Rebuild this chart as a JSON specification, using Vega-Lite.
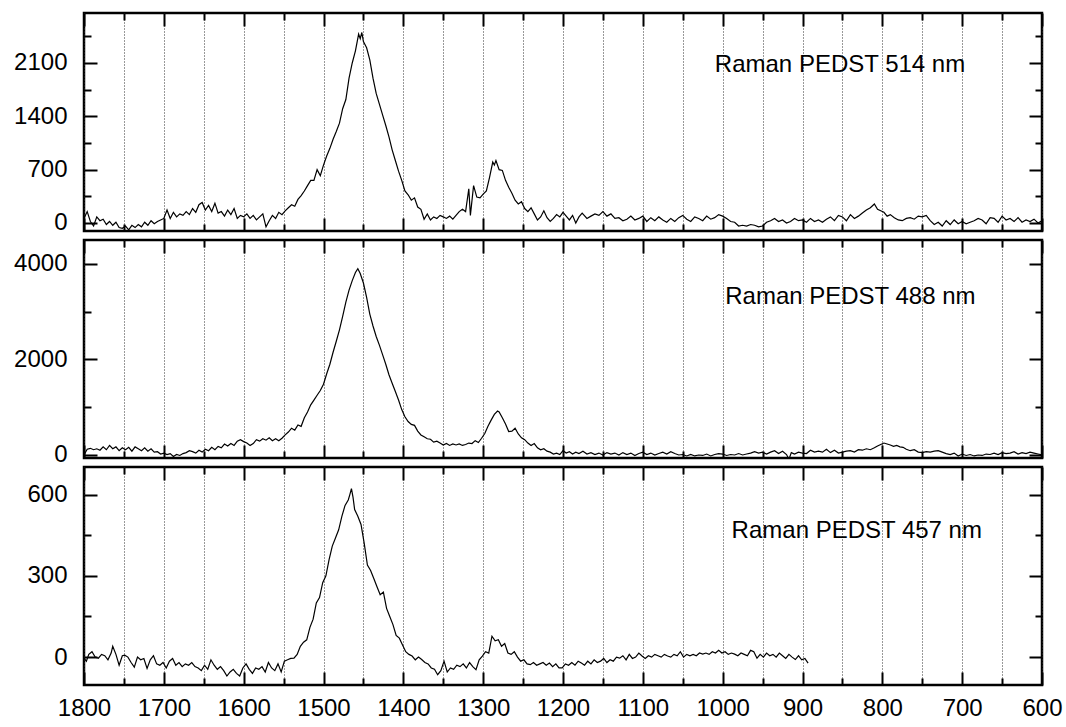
{
  "$schema": "https://vega.github.io/schema/vega-lite/v6.json",
  "padding": {"left": 12, "top": 10, "right": 0, "bottom": 0},
  "spacing": 9,
  "bounds": "flush",
  "config": {
    "view": {"stroke": "black", "strokeWidth": 2.5},
    "axis": {"domain": false, "tickColor": "black", "tickWidth": 2, "labelFont": "Liberation Sans", "labelFontSize": 24, "labelColor": "black", "grid": false, "labelFlush": false, "labelOverlap": false, "format": "d", "gridColor": "#333333", "gridDash": [1, 2], "gridWidth": 1}
  },
  "datasets": {
    "p514": [
      {"w":1800,"i":60},{"w":1796,"i":150},{"w":1792,"i":20},{"w":1788,"i":-40},{"w":1784,"i":80},{"w":1780,"i":30},{"w":1776,"i":50},{"w":1772,"i":-20},{"w":1768,"i":20},{"w":1764,"i":-30},{"w":1760,"i":10},{"w":1756,"i":-60},{"w":1752,"i":-70},{"w":1748,"i":-40},{"w":1744,"i":-90},{"w":1740,"i":-30},{"w":1736,"i":-60},{"w":1732,"i":-20},{"w":1728,"i":-50},{"w":1724,"i":10},{"w":1720,"i":-30},{"w":1716,"i":30},{"w":1712,"i":-10},{"w":1708,"i":20},{"w":1704,"i":40},{"w":1700,"i":60},
      {"w":1696,"i":170},{"w":1692,"i":60},{"w":1688,"i":140},{"w":1684,"i":80},{"w":1680,"i":120},{"w":1676,"i":100},{"w":1672,"i":150},{"w":1668,"i":110},{"w":1664,"i":190},{"w":1660,"i":140},{"w":1656,"i":240},{"w":1652,"i":270},{"w":1648,"i":170},{"w":1644,"i":230},{"w":1640,"i":150},{"w":1636,"i":260},{"w":1632,"i":130},{"w":1628,"i":150},{"w":1624,"i":90},{"w":1620,"i":170},{"w":1616,"i":110},{"w":1612,"i":190},{"w":1608,"i":60},{"w":1604,"i":100},{"w":1600,"i":80},
      {"w":1596,"i":120},{"w":1592,"i":60},{"w":1588,"i":100},{"w":1584,"i":40},{"w":1580,"i":80},{"w":1576,"i":120},{"w":1572,"i":-50},{"w":1568,"i":30},{"w":1564,"i":100},{"w":1560,"i":60},{"w":1556,"i":140},{"w":1552,"i":110},{"w":1548,"i":160},{"w":1544,"i":200},{"w":1540,"i":240},{"w":1536,"i":220},{"w":1532,"i":310},{"w":1528,"i":360},{"w":1524,"i":420},{"w":1520,"i":490},{"w":1516,"i":560},{"w":1512,"i":560},{"w":1508,"i":700},{"w":1504,"i":620},{"w":1500,"i":760},
      {"w":1496,"i":880},{"w":1492,"i":980},{"w":1488,"i":1100},{"w":1484,"i":1200},{"w":1480,"i":1310},{"w":1476,"i":1500},{"w":1472,"i":1620},{"w":1468,"i":1900},{"w":1464,"i":2100},{"w":1460,"i":2260},{"w":1456,"i":2480},{"w":1454,"i":2420},{"w":1452,"i":2500},{"w":1450,"i":2380},{"w":1446,"i":2300},{"w":1442,"i":2140},{"w":1438,"i":1900},{"w":1434,"i":1700},{"w":1430,"i":1560},{"w":1426,"i":1420},{"w":1422,"i":1280},{"w":1418,"i":1130},{"w":1414,"i":960},{"w":1410,"i":820},{"w":1406,"i":680},{"w":1402,"i":560},
      {"w":1398,"i":420},{"w":1394,"i":370},{"w":1390,"i":300},{"w":1386,"i":330},{"w":1382,"i":210},{"w":1378,"i":180},{"w":1374,"i":50},{"w":1370,"i":120},{"w":1366,"i":40},{"w":1362,"i":80},{"w":1358,"i":60},{"w":1354,"i":100},{"w":1350,"i":80},{"w":1346,"i":60},{"w":1342,"i":90},{"w":1338,"i":50},{"w":1334,"i":100},{"w":1330,"i":150},{"w":1326,"i":180},{"w":1322,"i":150},{"w":1318,"i":450},{"w":1316,"i":100},{"w":1312,"i":490},{"w":1308,"i":340},{"w":1304,"i":330},{"w":1300,"i":380},
      {"w":1296,"i":420},{"w":1292,"i":600},{"w":1288,"i":800},{"w":1286,"i":760},{"w":1284,"i":820},{"w":1280,"i":700},{"w":1276,"i":690},{"w":1272,"i":560},{"w":1268,"i":470},{"w":1264,"i":390},{"w":1260,"i":300},{"w":1256,"i":250},{"w":1252,"i":280},{"w":1248,"i":190},{"w":1244,"i":150},{"w":1240,"i":200},{"w":1236,"i":120},{"w":1232,"i":40},{"w":1228,"i":80},{"w":1224,"i":160},{"w":1220,"i":70},{"w":1216,"i":20},{"w":1212,"i":60},{"w":1208,"i":110},{"w":1204,"i":80},{"w":1200,"i":140},
      {"w":1196,"i":90},{"w":1192,"i":40},{"w":1188,"i":100},{"w":1184,"i":0},{"w":1180,"i":80},{"w":1176,"i":130},{"w":1170,"i":60},{"w":1165,"i":90},{"w":1160,"i":120},{"w":1155,"i":100},{"w":1150,"i":150},{"w":1145,"i":90},{"w":1140,"i":120},{"w":1135,"i":60},{"w":1130,"i":70},{"w":1125,"i":30},{"w":1120,"i":50},{"w":1115,"i":90},{"w":1110,"i":40},{"w":1105,"i":60},{"w":1100,"i":90},
      {"w":1095,"i":20},{"w":1090,"i":70},{"w":1085,"i":30},{"w":1080,"i":80},{"w":1075,"i":40},{"w":1070,"i":10},{"w":1065,"i":60},{"w":1060,"i":20},{"w":1055,"i":70},{"w":1050,"i":100},{"w":1045,"i":50},{"w":1040,"i":20},{"w":1035,"i":80},{"w":1030,"i":60},{"w":1025,"i":30},{"w":1020,"i":90},{"w":1015,"i":50},{"w":1010,"i":70},{"w":1005,"i":110},{"w":1000,"i":90},
      {"w":995,"i":60},{"w":990,"i":20},{"w":985,"i":10},{"w":980,"i":-40},{"w":975,"i":-30},{"w":970,"i":-40},{"w":965,"i":-20},{"w":960,"i":-30},{"w":955,"i":-50},{"w":950,"i":-40},{"w":945,"i":10},{"w":940,"i":30},{"w":935,"i":60},{"w":930,"i":20},{"w":925,"i":40},{"w":920,"i":0},{"w":915,"i":20},{"w":910,"i":60},{"w":905,"i":30},{"w":900,"i":40},
      {"w":895,"i":10},{"w":890,"i":60},{"w":885,"i":20},{"w":880,"i":40},{"w":875,"i":10},{"w":870,"i":50},{"w":865,"i":80},{"w":860,"i":30},{"w":855,"i":100},{"w":850,"i":80},{"w":845,"i":30},{"w":840,"i":110},{"w":835,"i":60},{"w":830,"i":90},{"w":825,"i":130},{"w":820,"i":170},{"w":815,"i":200},{"w":810,"i":250},{"w":806,"i":180},{"w":802,"i":160},
      {"w":798,"i":140},{"w":794,"i":90},{"w":790,"i":110},{"w":785,"i":70},{"w":780,"i":40},{"w":775,"i":30},{"w":770,"i":60},{"w":765,"i":70},{"w":760,"i":50},{"w":755,"i":90},{"w":750,"i":80},{"w":745,"i":100},{"w":740,"i":30},{"w":735,"i":-20},{"w":730,"i":10},{"w":725,"i":-40},{"w":720,"i":30},{"w":715,"i":-20},{"w":710,"i":40},{"w":705,"i":-10},{"w":700,"i":20},
      {"w":695,"i":-10},{"w":690,"i":10},{"w":685,"i":30},{"w":680,"i":60},{"w":675,"i":40},{"w":670,"i":-10},{"w":665,"i":70},{"w":660,"i":60},{"w":655,"i":10},{"w":650,"i":90},{"w":645,"i":40},{"w":640,"i":60},{"w":635,"i":20},{"w":630,"i":70},{"w":625,"i":10},{"w":620,"i":40},{"w":615,"i":20},{"w":610,"i":50},{"w":605,"i":0},{"w":600,"i":30}
    ],
    "p488": [
      {"w":1800,"i":0},{"w":1796,"i":120},{"w":1792,"i":140},{"w":1788,"i":110},{"w":1784,"i":130},{"w":1780,"i":100},{"w":1776,"i":170},{"w":1772,"i":110},{"w":1768,"i":200},{"w":1764,"i":130},{"w":1760,"i":170},{"w":1756,"i":90},{"w":1752,"i":150},{"w":1748,"i":110},{"w":1744,"i":160},{"w":1740,"i":80},{"w":1736,"i":170},{"w":1732,"i":130},{"w":1728,"i":90},{"w":1724,"i":150},{"w":1720,"i":80},{"w":1716,"i":130},{"w":1712,"i":60},{"w":1708,"i":70},{"w":1704,"i":20},{"w":1700,"i":40},
      {"w":1696,"i":10},{"w":1692,"i":30},{"w":1688,"i":-30},{"w":1684,"i":10},{"w":1680,"i":-10},{"w":1676,"i":30},{"w":1672,"i":50},{"w":1668,"i":90},{"w":1664,"i":70},{"w":1660,"i":40},{"w":1656,"i":100},{"w":1652,"i":60},{"w":1648,"i":120},{"w":1644,"i":90},{"w":1640,"i":160},{"w":1636,"i":110},{"w":1632,"i":180},{"w":1628,"i":150},{"w":1624,"i":230},{"w":1620,"i":190},{"w":1616,"i":240},{"w":1612,"i":200},{"w":1608,"i":290},{"w":1604,"i":320},{"w":1600,"i":280},
      {"w":1596,"i":250},{"w":1592,"i":200},{"w":1588,"i":240},{"w":1584,"i":320},{"w":1580,"i":290},{"w":1576,"i":340},{"w":1572,"i":310},{"w":1568,"i":360},{"w":1564,"i":300},{"w":1560,"i":340},{"w":1556,"i":300},{"w":1552,"i":350},{"w":1548,"i":420},{"w":1544,"i":480},{"w":1540,"i":560},{"w":1536,"i":520},{"w":1532,"i":630},{"w":1528,"i":600},{"w":1524,"i":780},{"w":1520,"i":900},{"w":1516,"i":1050},{"w":1512,"i":1150},{"w":1508,"i":1250},{"w":1504,"i":1350},{"w":1500,"i":1480},
      {"w":1496,"i":1700},{"w":1492,"i":1900},{"w":1488,"i":2150},{"w":1484,"i":2380},{"w":1480,"i":2620},{"w":1476,"i":2900},{"w":1472,"i":3200},{"w":1468,"i":3450},{"w":1464,"i":3650},{"w":1460,"i":3820},{"w":1457,"i":3900},{"w":1454,"i":3800},{"w":1450,"i":3600},{"w":1446,"i":3300},{"w":1442,"i":2950},{"w":1438,"i":2700},{"w":1434,"i":2480},{"w":1430,"i":2300},{"w":1426,"i":2100},{"w":1422,"i":1900},{"w":1418,"i":1680},{"w":1414,"i":1500},{"w":1410,"i":1330},{"w":1406,"i":1150},{"w":1402,"i":950},
      {"w":1398,"i":800},{"w":1394,"i":700},{"w":1390,"i":640},{"w":1386,"i":620},{"w":1382,"i":500},{"w":1378,"i":420},{"w":1374,"i":380},{"w":1370,"i":340},{"w":1366,"i":330},{"w":1362,"i":270},{"w":1358,"i":290},{"w":1354,"i":250},{"w":1350,"i":210},{"w":1346,"i":240},{"w":1342,"i":200},{"w":1338,"i":230},{"w":1334,"i":210},{"w":1330,"i":230},{"w":1326,"i":200},{"w":1322,"i":220},{"w":1318,"i":250},{"w":1314,"i":240},{"w":1310,"i":300},{"w":1306,"i":260},{"w":1302,"i":350},
      {"w":1298,"i":450},{"w":1294,"i":600},{"w":1290,"i":730},{"w":1286,"i":850},{"w":1282,"i":920},{"w":1280,"i":900},{"w":1276,"i":780},{"w":1272,"i":650},{"w":1268,"i":490},{"w":1264,"i":500},{"w":1260,"i":560},{"w":1256,"i":440},{"w":1252,"i":360},{"w":1248,"i":320},{"w":1244,"i":250},{"w":1240,"i":200},{"w":1236,"i":240},{"w":1232,"i":150},{"w":1228,"i":110},{"w":1224,"i":130},{"w":1220,"i":80},{"w":1216,"i":60},{"w":1212,"i":20},{"w":1208,"i":40},{"w":1204,"i":10},{"w":1200,"i":90},
      {"w":1196,"i":40},{"w":1192,"i":70},{"w":1188,"i":20},{"w":1184,"i":60},{"w":1180,"i":30},{"w":1175,"i":80},{"w":1170,"i":20},{"w":1165,"i":50},{"w":1160,"i":10},{"w":1155,"i":40},{"w":1150,"i":0},{"w":1145,"i":50},{"w":1140,"i":20},{"w":1135,"i":40},{"w":1130,"i":0},{"w":1125,"i":50},{"w":1120,"i":10},{"w":1115,"i":40},{"w":1110,"i":-10},{"w":1105,"i":30},{"w":1100,"i":60},
      {"w":1095,"i":10},{"w":1090,"i":40},{"w":1085,"i":0},{"w":1080,"i":30},{"w":1075,"i":60},{"w":1070,"i":20},{"w":1065,"i":70},{"w":1060,"i":30},{"w":1055,"i":0},{"w":1050,"i":10},{"w":1045,"i":-20},{"w":1040,"i":10},{"w":1035,"i":-20},{"w":1030,"i":0},{"w":1025,"i":-10},{"w":1020,"i":20},{"w":1015,"i":-20},{"w":1010,"i":10},{"w":1005,"i":30},{"w":1000,"i":20},
      {"w":995,"i":-10},{"w":990,"i":10},{"w":985,"i":0},{"w":980,"i":30},{"w":975,"i":0},{"w":970,"i":20},{"w":965,"i":40},{"w":960,"i":70},{"w":955,"i":40},{"w":950,"i":60},{"w":945,"i":20},{"w":940,"i":60},{"w":935,"i":90},{"w":930,"i":30},{"w":925,"i":80},{"w":920,"i":10},{"w":917,"i":-90},{"w":914,"i":50},{"w":910,"i":20},{"w":905,"i":60},{"w":900,"i":40},
      {"w":895,"i":30},{"w":890,"i":100},{"w":885,"i":60},{"w":880,"i":80},{"w":875,"i":60},{"w":870,"i":120},{"w":865,"i":50},{"w":860,"i":100},{"w":855,"i":40},{"w":850,"i":60},{"w":845,"i":80},{"w":840,"i":90},{"w":835,"i":60},{"w":830,"i":110},{"w":825,"i":100},{"w":820,"i":130},{"w":815,"i":110},{"w":810,"i":150},{"w":806,"i":190},{"w":802,"i":220},
      {"w":798,"i":250},{"w":794,"i":230},{"w":790,"i":210},{"w":786,"i":180},{"w":782,"i":200},{"w":778,"i":170},{"w":774,"i":160},{"w":770,"i":120},{"w":765,"i":90},{"w":760,"i":110},{"w":755,"i":60},{"w":750,"i":50},{"w":745,"i":70},{"w":740,"i":60},{"w":735,"i":80},{"w":730,"i":90},{"w":725,"i":60},{"w":720,"i":30},{"w":715,"i":10},{"w":710,"i":40},{"w":705,"i":-20},{"w":700,"i":20},
      {"w":695,"i":-10},{"w":690,"i":10},{"w":685,"i":-20},{"w":680,"i":0},{"w":675,"i":-10},{"w":670,"i":20},{"w":665,"i":10},{"w":660,"i":40},{"w":655,"i":10},{"w":650,"i":50},{"w":645,"i":30},{"w":640,"i":40},{"w":635,"i":70},{"w":630,"i":20},{"w":625,"i":50},{"w":620,"i":30},{"w":615,"i":60},{"w":610,"i":40},{"w":605,"i":20},{"w":600,"i":0}
    ],
    "p457": [
      {"w":1800,"i":-4},{"w":1797,"i":-15},{"w":1794,"i":10},{"w":1790,"i":20},{"w":1786,"i":0},{"w":1782,"i":-4},{"w":1778,"i":10},{"w":1774,"i":5},{"w":1770,"i":-10},{"w":1766,"i":15},{"w":1764,"i":40},{"w":1760,"i":10},{"w":1756,"i":-30},{"w":1752,"i":5},{"w":1749,"i":7},{"w":1745,"i":0},{"w":1741,"i":-20},{"w":1737,"i":-37},{"w":1733,"i":0},{"w":1729,"i":-10},{"w":1725,"i":-5},{"w":1721,"i":-42},{"w":1717,"i":-10},{"w":1713,"i":5},{"w":1709,"i":-25},{"w":1705,"i":-30},{"w":1701,"i":-20},
      {"w":1697,"i":-40},{"w":1693,"i":-15},{"w":1689,"i":-5},{"w":1685,"i":-30},{"w":1681,"i":-20},{"w":1677,"i":-35},{"w":1673,"i":-25},{"w":1669,"i":-30},{"w":1665,"i":-20},{"w":1661,"i":-35},{"w":1657,"i":-40},{"w":1653,"i":-50},{"w":1649,"i":-30},{"w":1645,"i":-45},{"w":1641,"i":-10},{"w":1637,"i":-30},{"w":1633,"i":-45},{"w":1629,"i":-35},{"w":1625,"i":-50},{"w":1621,"i":-70},{"w":1617,"i":-55},{"w":1613,"i":-45},{"w":1609,"i":-60},{"w":1605,"i":-70},{"w":1601,"i":-40},
      {"w":1597,"i":-25},{"w":1593,"i":-45},{"w":1589,"i":-60},{"w":1585,"i":-40},{"w":1581,"i":-45},{"w":1577,"i":-35},{"w":1573,"i":-55},{"w":1569,"i":-20},{"w":1565,"i":-40},{"w":1561,"i":-50},{"w":1557,"i":-25},{"w":1553,"i":-55},{"w":1549,"i":-15},{"w":1545,"i":-10},{"w":1541,"i":-5},{"w":1537,"i":-4},{"w":1533,"i":10},{"w":1529,"i":40},{"w":1525,"i":55},{"w":1521,"i":64},{"w":1517,"i":110},{"w":1513,"i":140},{"w":1509,"i":200},{"w":1505,"i":220},{"w":1501,"i":275},
      {"w":1497,"i":300},{"w":1493,"i":360},{"w":1489,"i":410},{"w":1485,"i":440},{"w":1481,"i":470},{"w":1477,"i":520},{"w":1473,"i":560},{"w":1469,"i":580},{"w":1467,"i":600},{"w":1465,"i":622},{"w":1463,"i":590},{"w":1461,"i":545},{"w":1457,"i":520},{"w":1453,"i":490},{"w":1449,"i":420},{"w":1445,"i":340},{"w":1441,"i":320},{"w":1437,"i":290},{"w":1433,"i":260},{"w":1429,"i":230},{"w":1425,"i":240},{"w":1421,"i":180},{"w":1417,"i":150},{"w":1413,"i":120},{"w":1409,"i":80},{"w":1405,"i":70},{"w":1401,"i":45},
      {"w":1397,"i":20},{"w":1393,"i":10},{"w":1389,"i":4},{"w":1385,"i":-10},{"w":1381,"i":0},{"w":1377,"i":-9},{"w":1373,"i":-20},{"w":1369,"i":-25},{"w":1365,"i":-40},{"w":1361,"i":-45},{"w":1357,"i":-65},{"w":1353,"i":-50},{"w":1349,"i":-15},{"w":1345,"i":-55},{"w":1341,"i":-40},{"w":1337,"i":-45},{"w":1333,"i":-30},{"w":1329,"i":-35},{"w":1325,"i":-25},{"w":1321,"i":-40},{"w":1317,"i":-20},{"w":1313,"i":-35},{"w":1309,"i":-46},{"w":1305,"i":-10},{"w":1301,"i":4},
      {"w":1297,"i":20},{"w":1293,"i":15},{"w":1289,"i":77},{"w":1285,"i":60},{"w":1281,"i":64},{"w":1277,"i":40},{"w":1273,"i":50},{"w":1269,"i":15},{"w":1265,"i":10},{"w":1261,"i":20},{"w":1257,"i":0},{"w":1253,"i":-15},{"w":1249,"i":-10},{"w":1245,"i":-25},{"w":1241,"i":-28},{"w":1237,"i":-20},{"w":1233,"i":-30},{"w":1229,"i":-25},{"w":1225,"i":-20},{"w":1221,"i":-30},{"w":1217,"i":-22},{"w":1213,"i":-35},{"w":1209,"i":-25},{"w":1205,"i":-40},{"w":1201,"i":-40},
      {"w":1197,"i":-25},{"w":1193,"i":-30},{"w":1189,"i":-20},{"w":1185,"i":-30},{"w":1181,"i":-15},{"w":1177,"i":-22},{"w":1173,"i":-30},{"w":1169,"i":-15},{"w":1165,"i":-25},{"w":1161,"i":-10},{"w":1157,"i":-20},{"w":1153,"i":-15},{"w":1149,"i":-5},{"w":1145,"i":-20},{"w":1141,"i":-10},{"w":1137,"i":-15},{"w":1133,"i":0},{"w":1129,"i":-4},{"w":1125,"i":5},{"w":1121,"i":-10},{"w":1117,"i":10},{"w":1113,"i":-5},{"w":1109,"i":0},{"w":1105,"i":15},{"w":1101,"i":4},
      {"w":1097,"i":-5},{"w":1093,"i":5},{"w":1089,"i":0},{"w":1085,"i":10},{"w":1081,"i":5},{"w":1077,"i":0},{"w":1073,"i":10},{"w":1069,"i":4},{"w":1065,"i":0},{"w":1061,"i":10},{"w":1057,"i":5},{"w":1053,"i":20},{"w":1049,"i":0},{"w":1045,"i":10},{"w":1041,"i":5},{"w":1037,"i":10},{"w":1033,"i":5},{"w":1029,"i":15},{"w":1025,"i":11},{"w":1021,"i":15},{"w":1017,"i":10},{"w":1013,"i":20},{"w":1009,"i":15},{"w":1005,"i":25},{"w":1001,"i":15},
      {"w":997,"i":20},{"w":993,"i":10},{"w":989,"i":15},{"w":985,"i":11},{"w":981,"i":5},{"w":977,"i":15},{"w":973,"i":10},{"w":969,"i":5},{"w":965,"i":25},{"w":961,"i":20},{"w":957,"i":-4},{"w":953,"i":10},{"w":949,"i":0},{"w":945,"i":15},{"w":941,"i":5},{"w":937,"i":10},{"w":933,"i":0},{"w":929,"i":15},{"w":925,"i":5},{"w":921,"i":-5},{"w":917,"i":10},{"w":913,"i":0},{"w":909,"i":-9},{"w":905,"i":5},{"w":901,"i":-10},{"w":897,"i":-5},{"w":893,"i":-22}
    ]
  },
  "vconcat": [
    {
      "width": 958, "height": 218,
      "data": {"name": "p514"},
      "resolve": {"axis": {"x": "independent", "y": "independent"}},
      "layer": [
        {"mark": {"type": "line", "color": "black", "strokeWidth": 1.2, "clip": true},
         "encoding": {
           "x": {"field": "w", "type": "quantitative", "title": null, "scale": {"domain": [600, 1800], "reverse": true, "nice": false, "zero": false}, "axis": {"orient": "bottom", "values": [1800,1700,1600,1500,1400,1300,1200,1100,1000,900,800,700,600], "tickSize": -13, "labels": false, "grid": true}},
           "y": {"field": "i", "type": "quantitative", "title": null, "scale": {"domain": [-105, 2756], "nice": false, "zero": false}, "axis": {"orient": "left", "values": [0,700,1400,2100], "tickSize": -13, "labelPadding": 30}}}},
        {"mark": {"type": "line", "strokeOpacity": 0},
         "encoding": {
           "x": {"field": "w", "type": "quantitative", "title": null, "scale": {"domain": [600, 1800], "reverse": true, "nice": false, "zero": false}, "axis": {"orient": "bottom", "values": [1750,1650,1550,1450,1350,1250,1150,1050,950,850,750,650], "tickSize": -7, "labels": false, "grid": true}},
           "y": {"field": "i", "type": "quantitative", "title": null, "scale": {"domain": [-105, 2756], "nice": false, "zero": false}, "axis": {"orient": "left", "values": [350,1050,1750,2450], "tickSize": -7, "labels": false}}}},
        {"mark": {"type": "line", "strokeOpacity": 0},
         "encoding": {
           "x": {"field": "w", "type": "quantitative", "title": null, "scale": {"domain": [600, 1800], "reverse": true, "nice": false, "zero": false}, "axis": {"orient": "top", "values": [1800,1700,1600,1500,1400,1300,1200,1100,1000,900,800,700,600], "tickSize": -13, "labels": false}},
           "y": {"field": "i", "type": "quantitative", "title": null, "scale": {"domain": [-105, 2756], "nice": false, "zero": false}, "axis": {"orient": "right", "values": [0,700,1400,2100], "tickSize": -13, "labels": false}}}},
        {"mark": {"type": "line", "strokeOpacity": 0},
         "encoding": {
           "x": {"field": "w", "type": "quantitative", "title": null, "scale": {"domain": [600, 1800], "reverse": true, "nice": false, "zero": false}, "axis": {"orient": "top", "values": [1750,1650,1550,1450,1350,1250,1150,1050,950,850,750,650], "tickSize": -7, "labels": false}},
           "y": {"field": "i", "type": "quantitative", "title": null, "scale": {"domain": [-105, 2756], "nice": false, "zero": false}, "axis": {"orient": "right", "values": [350,1050,1750,2450], "tickSize": -7, "labels": false}}}},
        {"data": {"values": [{"label": "Raman PEDST 514 nm"}]},
         "mark": {"type": "text", "font": "Liberation Sans", "fontSize": 24, "color": "black", "align": "center", "baseline": "middle"},
         "encoding": {
           "x": {"datum": 853, "type": "quantitative", "scale": {"domain": [600, 1800], "reverse": true, "nice": false, "zero": false}, "axis": null},
           "y": {"datum": 2073, "type": "quantitative", "scale": {"domain": [-105, 2756], "nice": false, "zero": false}, "axis": null},
           "text": {"field": "label"}}}
      ]
    },
    {
      "width": 958, "height": 218,
      "data": {"name": "p488"},
      "resolve": {"axis": {"x": "independent", "y": "independent"}},
      "layer": [
        {"mark": {"type": "line", "color": "black", "strokeWidth": 1.2, "clip": true},
         "encoding": {
           "x": {"field": "w", "type": "quantitative", "title": null, "scale": {"domain": [600, 1800], "reverse": true, "nice": false, "zero": false}, "axis": {"orient": "bottom", "values": [1800,1700,1600,1500,1400,1300,1200,1100,1000,900,800,700,600], "tickSize": -13, "labels": false, "grid": true}},
           "y": {"field": "i", "type": "quantitative", "title": null, "scale": {"domain": [-63, 4500], "nice": false, "zero": false}, "axis": {"orient": "left", "values": [0,2000,4000], "tickSize": -13, "labelPadding": 30}}}},
        {"mark": {"type": "line", "strokeOpacity": 0},
         "encoding": {
           "x": {"field": "w", "type": "quantitative", "title": null, "scale": {"domain": [600, 1800], "reverse": true, "nice": false, "zero": false}, "axis": {"orient": "bottom", "values": [1750,1650,1550,1450,1350,1250,1150,1050,950,850,750,650], "tickSize": -7, "labels": false, "grid": true}},
           "y": {"field": "i", "type": "quantitative", "title": null, "scale": {"domain": [-63, 4500], "nice": false, "zero": false}, "axis": {"orient": "left", "values": [1000,3000], "tickSize": -7, "labels": false}}}},
        {"mark": {"type": "line", "strokeOpacity": 0},
         "encoding": {
           "x": {"field": "w", "type": "quantitative", "title": null, "scale": {"domain": [600, 1800], "reverse": true, "nice": false, "zero": false}, "axis": {"orient": "top", "values": [1800,1700,1600,1500,1400,1300,1200,1100,1000,900,800,700,600], "tickSize": -13, "labels": false}},
           "y": {"field": "i", "type": "quantitative", "title": null, "scale": {"domain": [-63, 4500], "nice": false, "zero": false}, "axis": {"orient": "right", "values": [0,2000,4000], "tickSize": -13, "labels": false}}}},
        {"mark": {"type": "line", "strokeOpacity": 0},
         "encoding": {
           "x": {"field": "w", "type": "quantitative", "title": null, "scale": {"domain": [600, 1800], "reverse": true, "nice": false, "zero": false}, "axis": {"orient": "top", "values": [1750,1650,1550,1450,1350,1250,1150,1050,950,850,750,650], "tickSize": -7, "labels": false}},
           "y": {"field": "i", "type": "quantitative", "title": null, "scale": {"domain": [-63, 4500], "nice": false, "zero": false}, "axis": {"orient": "right", "values": [1000,3000], "tickSize": -7, "labels": false}}}},
        {"data": {"values": [{"label": "Raman PEDST 488 nm"}]},
         "mark": {"type": "text", "font": "Liberation Sans", "fontSize": 24, "color": "black", "align": "center", "baseline": "middle"},
         "encoding": {
           "x": {"datum": 840, "type": "quantitative", "scale": {"domain": [600, 1800], "reverse": true, "nice": false, "zero": false}, "axis": null},
           "y": {"datum": 3305, "type": "quantitative", "scale": {"domain": [-63, 4500], "nice": false, "zero": false}, "axis": null},
           "text": {"field": "label"}}}
      ]
    },
    {
      "width": 958, "height": 218,
      "data": {"name": "p457"},
      "resolve": {"axis": {"x": "independent", "y": "independent"}},
      "layer": [
        {"mark": {"type": "line", "color": "black", "strokeWidth": 1.2, "clip": true},
         "encoding": {
           "x": {"field": "w", "type": "quantitative", "title": null, "scale": {"domain": [600, 1800], "reverse": true, "nice": false, "zero": false}, "axis": {"orient": "bottom", "values": [1800,1700,1600,1500,1400,1300,1200,1100,1000,900,800,700,600], "tickSize": -13, "labelPadding": 24, "grid": true}},
           "y": {"field": "i", "type": "quantitative", "title": null, "scale": {"domain": [-103, 702], "nice": false, "zero": false}, "axis": {"orient": "left", "values": [0,300,600], "tickSize": -13, "labelPadding": 30}}}},
        {"mark": {"type": "line", "strokeOpacity": 0},
         "encoding": {
           "x": {"field": "w", "type": "quantitative", "title": null, "scale": {"domain": [600, 1800], "reverse": true, "nice": false, "zero": false}, "axis": {"orient": "bottom", "values": [1750,1650,1550,1450,1350,1250,1150,1050,950,850,750,650], "tickSize": -7, "labels": false, "grid": true}},
           "y": {"field": "i", "type": "quantitative", "title": null, "scale": {"domain": [-103, 702], "nice": false, "zero": false}, "axis": {"orient": "left", "values": [150,450], "tickSize": -7, "labels": false}}}},
        {"mark": {"type": "line", "strokeOpacity": 0},
         "encoding": {
           "x": {"field": "w", "type": "quantitative", "title": null, "scale": {"domain": [600, 1800], "reverse": true, "nice": false, "zero": false}, "axis": {"orient": "top", "values": [1800,1700,1600,1500,1400,1300,1200,1100,1000,900,800,700,600], "tickSize": -13, "labels": false}},
           "y": {"field": "i", "type": "quantitative", "title": null, "scale": {"domain": [-103, 702], "nice": false, "zero": false}, "axis": {"orient": "right", "values": [0,300,600], "tickSize": -13, "labels": false}}}},
        {"mark": {"type": "line", "strokeOpacity": 0},
         "encoding": {
           "x": {"field": "w", "type": "quantitative", "title": null, "scale": {"domain": [600, 1800], "reverse": true, "nice": false, "zero": false}, "axis": {"orient": "top", "values": [1750,1650,1550,1450,1350,1250,1150,1050,950,850,750,650], "tickSize": -7, "labels": false}},
           "y": {"field": "i", "type": "quantitative", "title": null, "scale": {"domain": [-103, 702], "nice": false, "zero": false}, "axis": {"orient": "right", "values": [150,450], "tickSize": -7, "labels": false}}}},
        {"data": {"values": [{"label": "Raman PEDST 457 nm"}]},
         "mark": {"type": "text", "font": "Liberation Sans", "fontSize": 24, "color": "black", "align": "center", "baseline": "middle"},
         "encoding": {
           "x": {"datum": 832, "type": "quantitative", "scale": {"domain": [600, 1800], "reverse": true, "nice": false, "zero": false}, "axis": null},
           "y": {"datum": 464, "type": "quantitative", "scale": {"domain": [-103, 702], "nice": false, "zero": false}, "axis": null},
           "text": {"field": "label"}}}
      ]
    }
  ]
}
